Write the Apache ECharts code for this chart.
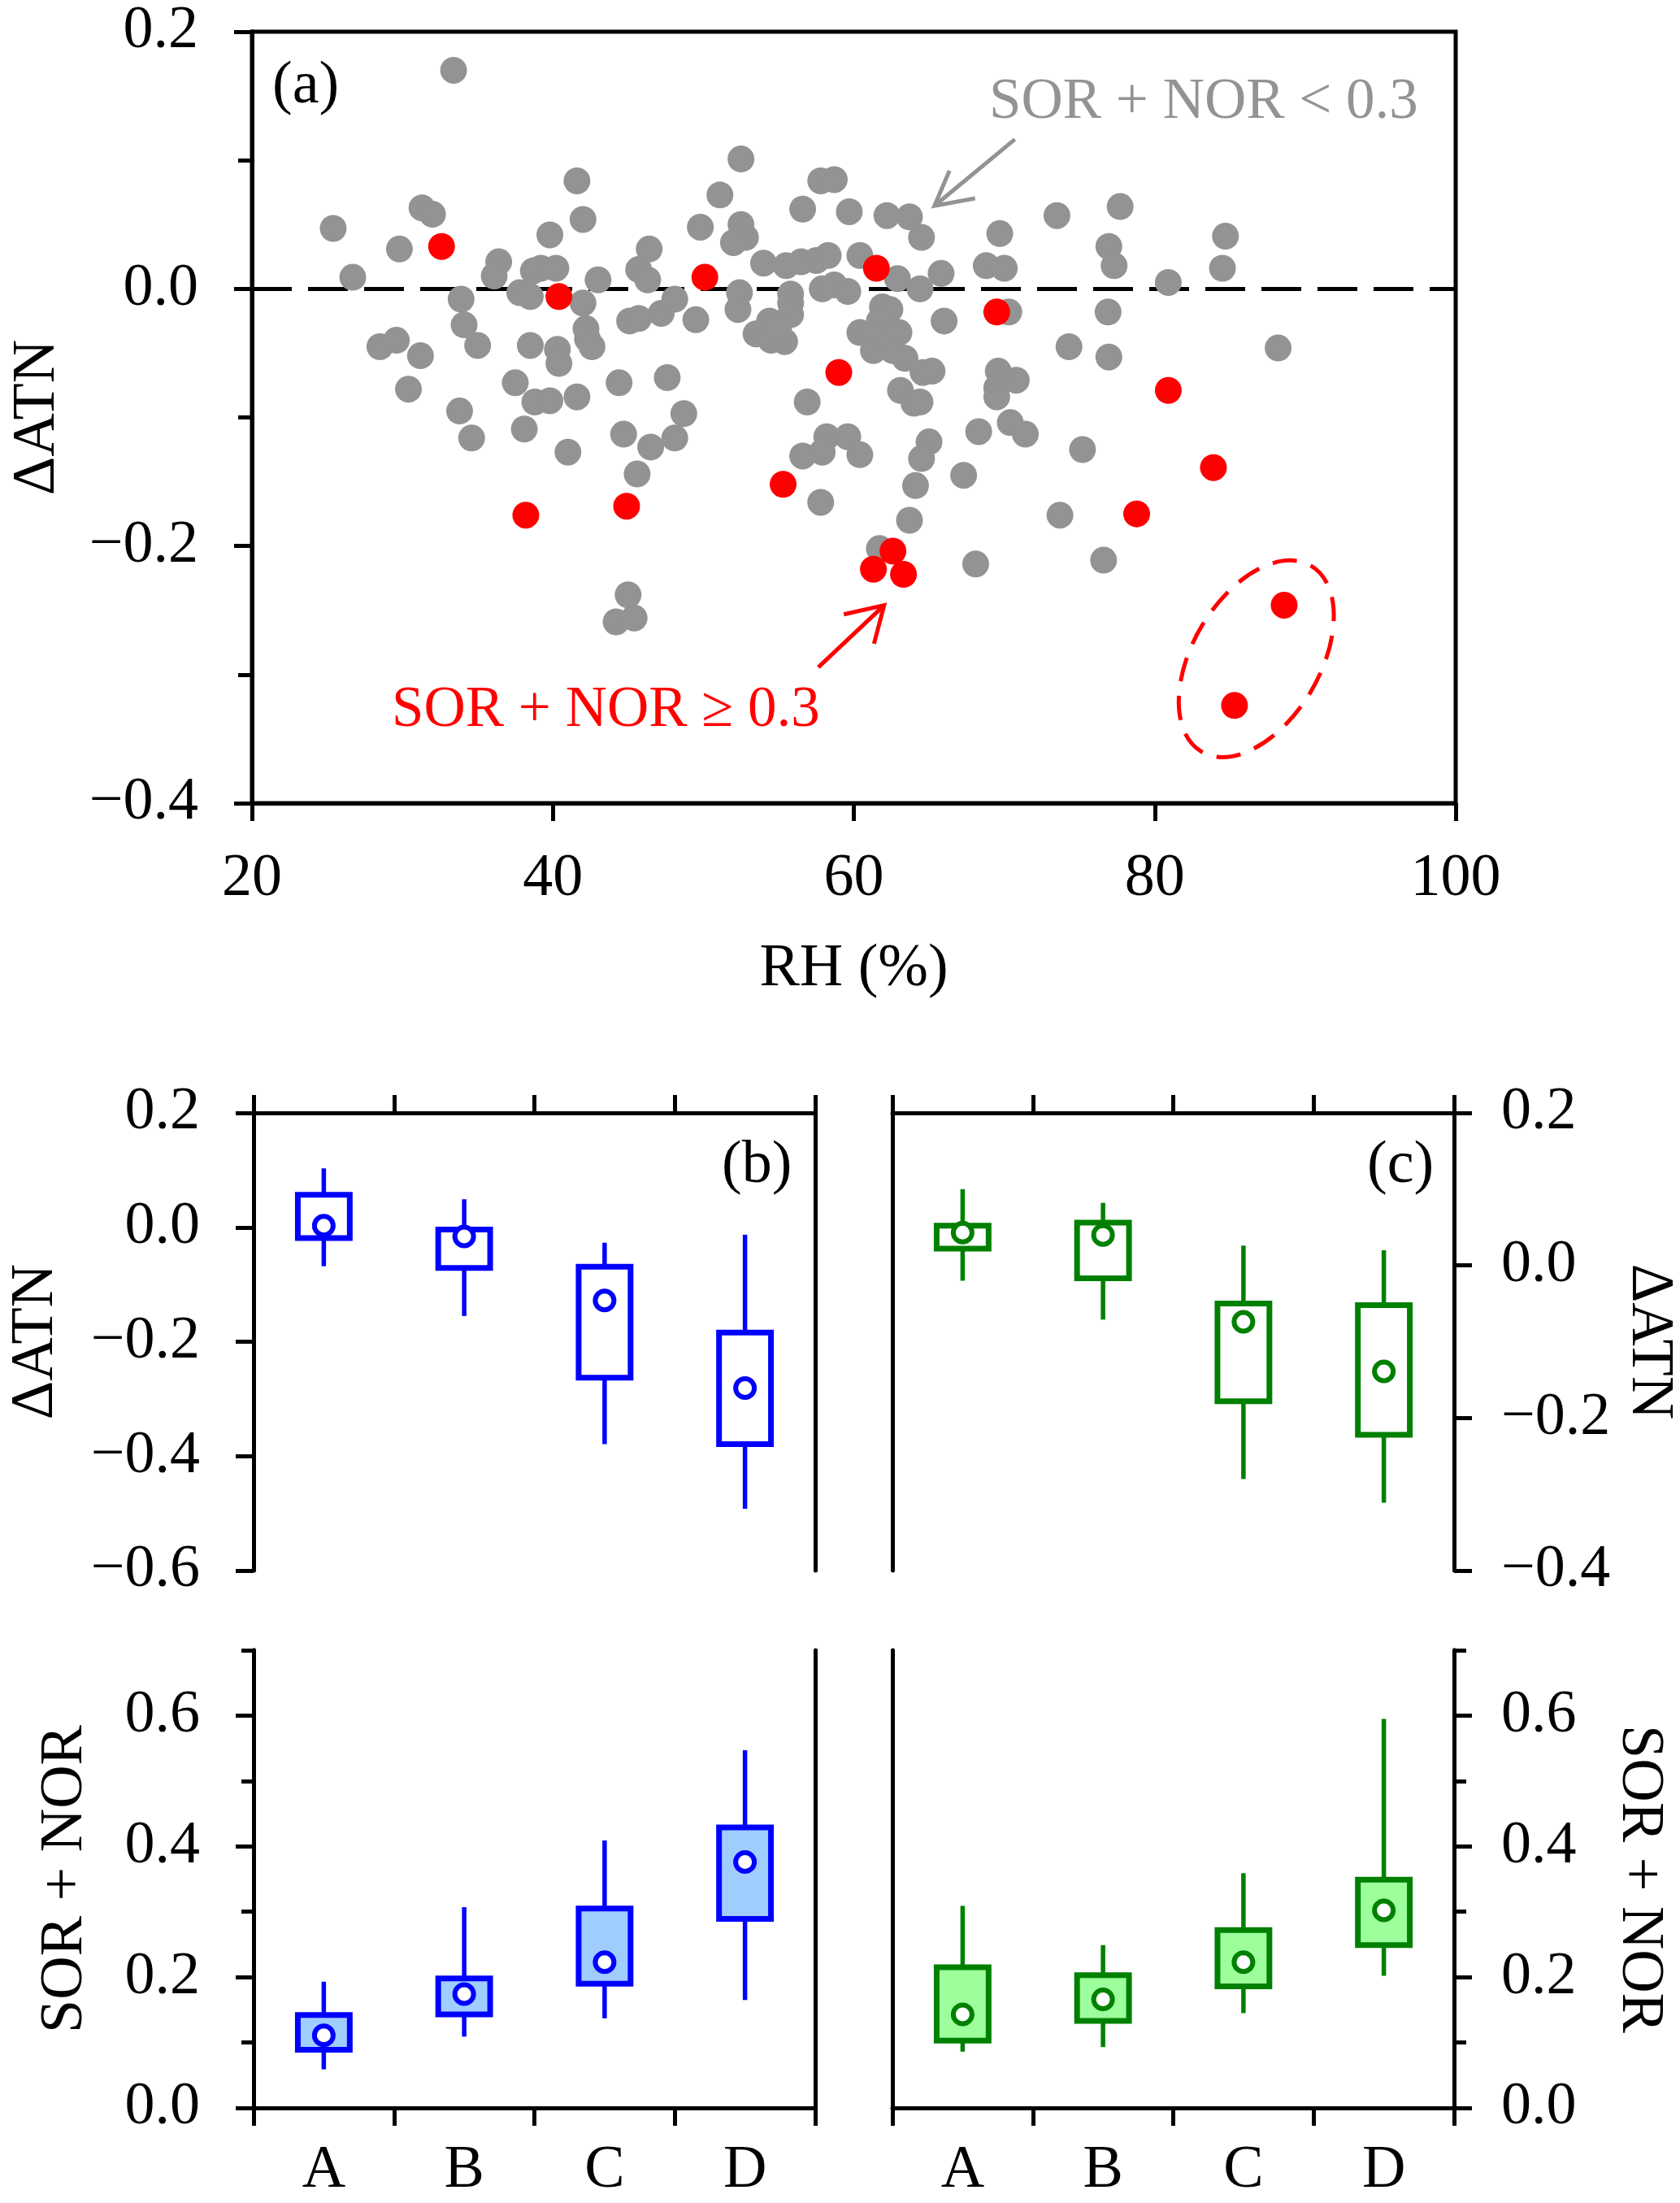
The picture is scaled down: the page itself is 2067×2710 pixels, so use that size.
<!DOCTYPE html>
<html><head><meta charset="utf-8">
<script src="https://cdn.jsdelivr.net/npm/echarts@6/dist/echarts.min.js"></script>
<style>html,body{margin:0;padding:0;background:#fff}#c{width:2067px;height:2710px}</style>
</head><body><div id="c"></div>
<script>
// ---------- DATA ----------
// Panel (a): RH (%) vs ΔATN
const grayPoints = [
  [33.4,0.170],[25.4,0.047],[26.7,0.009],[29.8,0.031],[31.3,0.063],[32.0,0.058],
  [28.5,-0.045],[29.6,-0.040],[31.2,-0.052],[30.4,-0.078],
  [33.9,-0.008],[34.1,-0.028],[35.0,-0.044],[33.8,-0.095],[34.6,-0.116],
  [36.4,0.021],[36.1,0.010],[37.8,-0.003],[38.5,-0.006],[38.7,0.014],[39.2,0.016],[40.2,0.016],[39.8,0.042],
  [41.6,0.084],[42.0,0.054],[42.0,-0.011],[43.0,0.007],
  [38.5,-0.044],[40.3,-0.047],[40.4,-0.058],[37.5,-0.073],[38.8,-0.088],[39.8,-0.087],[41.6,-0.084],[38.1,-0.109],[41.0,-0.127],
  [42.2,-0.031],[42.3,-0.039],[42.6,-0.045],
  [46.4,0.031],[45.7,0.015],[46.3,0.007],[45.1,-0.025],[45.7,-0.023],[47.2,-0.019],
  [44.4,-0.073],[44.7,-0.113],[46.5,-0.123],[45.6,-0.144],
  [45.0,-0.238],[44.2,-0.259],[45.4,-0.256],
  [48.1,-0.008],[47.6,-0.069],[48.1,-0.116],[48.7,-0.097],[49.5,-0.024],[49.8,0.048],[51.1,0.073],[52.5,0.101],[52.5,0.050],[52.8,0.040],[52.0,0.036],[52.4,-0.003],[52.3,-0.016],
  [54.0,0.020],[55.5,0.018],[56.5,0.021],[57.5,0.022],[58.3,0.026],[56.6,0.062],[57.8,0.084],[58.7,0.085],[59.7,0.060],[60.4,0.026],
  [57.9,0.000],[58.7,0.003],[59.6,-0.002],[55.8,-0.004],[55.8,-0.011],[55.8,-0.020],[54.4,-0.025],[53.5,-0.035],[54.5,-0.040],[55.4,-0.041],[55.0,-0.031],
  [56.9,-0.088],[58.2,-0.115],[59.6,-0.115],[56.6,-0.130],[57.9,-0.127],[60.4,-0.129],[57.8,-0.166],
  [62.2,0.057],[63.7,0.056],[64.5,0.040],[62.9,0.008],[64.4,0.000],[65.8,0.012],
  [61.9,-0.014],[62.4,-0.016],[61.7,-0.025],[60.4,-0.034],[61.3,-0.037],[63.0,-0.034],[61.3,-0.048],[62.6,-0.048],[63.4,-0.054],
  [66.0,-0.025],[64.6,-0.065],[65.2,-0.064],[63.1,-0.079],[64.0,-0.089],[64.4,-0.088],
  [65.0,-0.119],[64.5,-0.132],[64.1,-0.153],[63.7,-0.180],[61.7,-0.202],
  [67.3,-0.145],[68.1,-0.214],[68.3,-0.111],
  [69.7,0.043],[68.8,0.018],[70.0,0.016],[70.3,-0.018],[69.6,-0.064],[70.8,-0.071],[69.5,-0.077],[69.5,-0.084],[70.4,-0.104],[71.4,-0.113],
  [73.5,0.057],[74.3,-0.045],[73.7,-0.176],[75.2,-0.125],
  [77.7,0.064],[76.95,0.033],[77.3,0.018],[76.9,-0.018],[76.95,-0.053],[76.6,-0.211],
  [80.9,0.005],[84.7,0.041],[84.5,0.016],[88.2,-0.046]
];
const redPoints = [
  [32.6,0.033],[40.4,-0.006],[38.2,-0.176],[44.9,-0.169],
  [50.1,0.009],[59.0,-0.065],[55.3,-0.152],[61.5,0.016],[62.6,-0.204],[61.3,-0.218],[63.3,-0.222],[69.5,-0.018],
  [80.9,-0.079],[78.8,-0.175],[83.9,-0.139],[88.6,-0.246],[85.3,-0.324]
];
const rhTicks = [20, 40, 60, 80, 100];

// Panels (b),(c): categories and box statistics [low, q1, q3, high, mean]
const categories = ['A','B','C','D'];
const bAtnStats = [
  [-0.068,-0.019,0.057,0.103,0.003],
  [-0.155,-0.071,-0.004,0.049,-0.016],
  [-0.379,-0.263,-0.069,-0.027,-0.128],
  [-0.492,-0.379,-0.184,-0.013,-0.281]
];
const cAtnStats = [
  [-0.020,0.022,0.052,0.100,0.043],
  [-0.071,-0.017,0.056,0.082,0.040],
  [-0.280,-0.178,-0.050,0.026,-0.074],
  [-0.311,-0.222,-0.052,0.020,-0.139]
];
const bSnStats = [
  [0.059,0.089,0.142,0.193,0.111],
  [0.109,0.143,0.198,0.307,0.174],
  [0.137,0.190,0.305,0.409,0.223],
  [0.165,0.289,0.429,0.547,0.376]
];
const cSnStats = [
  [0.086,0.103,0.215,0.309,0.143],
  [0.093,0.133,0.203,0.249,0.166],
  [0.145,0.186,0.272,0.359,0.223],
  [0.202,0.249,0.349,0.595,0.302]
];

// ---------- STYLE / HELPERS ----------
const FONT = 'Liberation Serif';
const LW = 5;
const BLUE = '#0000FF', GREEN = '#008000';
const BLUE_FILL = '#A0CDFF', GREEN_FILL = '#9CFF9C';

function fmt(v) {
  const s = Math.abs(v).toFixed(1);
  return v < -1e-9 ? '\u2212' + s : s;
}
function axisBase(extra) {
  return Object.assign({
    axisLine: { show: true, onZero: false, lineStyle: { color: '#000', width: LW } },
    axisTick: { show: true, inside: false, length: 22, lineStyle: { color: '#000', width: LW } },
    axisLabel: { show: false },
    splitLine: { show: false }
  }, extra);
}
function labelStyle(margin, extra) {
  return Object.assign({ show: true, margin: margin, fontSize: 74, fontFamily: FONT, color: '#000', formatter: fmt }, extra || {});
}
const nameStyle = { fontSize: 74, fontFamily: FONT, color: '#000' };

function boxRender(color, fill) {
  return function (params, api) {
    const i = api.value(0);
    const low = api.coord([i, api.value(1)]);
    const q1 = api.coord([i, api.value(2)]);
    const q3 = api.coord([i, api.value(3)]);
    const high = api.coord([i, api.value(4)]);
    const mean = api.coord([i, api.value(5)]);
    const w = api.size([1, 0])[0] * 0.37;
    const x = q1[0];
    return {
      type: 'group',
      children: [
        { type: 'line', shape: { x1: x, y1: low[1], x2: x, y2: q1[1] }, style: { stroke: color, lineWidth: 5.5 } },
        { type: 'line', shape: { x1: x, y1: q3[1], x2: x, y2: high[1] }, style: { stroke: color, lineWidth: 5.5 } },
        { type: 'rect', shape: { x: x - w / 2, y: q3[1], width: w, height: q1[1] - q3[1] }, style: { fill: fill, stroke: color, lineWidth: 7 } },
        { type: 'circle', shape: { cx: mean[0], cy: mean[1], r: 11.5 }, style: { fill: '#fff', stroke: color, lineWidth: 6 } }
      ]
    };
  };
}
function boxSeries(stats, xi, yi, color, fill) {
  return {
    type: 'custom', xAxisIndex: xi, yAxisIndex: yi,
    renderItem: boxRender(color, fill),
    encode: { x: 0, y: [1, 2, 3, 4, 5] },
    data: stats.map((s, i) => [i].concat(s)),
    z: 5
  };
}

const chart = echarts.init(document.getElementById('c'), null, { renderer: 'canvas' });

const option = {
  animation: false,
  backgroundColor: '#fff',
  grid: [
    { left: 310, top: 39, width: 1481, height: 949, show: true, borderColor: '#000', borderWidth: LW, backgroundColor: 'transparent' },
    { left: 312, top: 1369, width: 691, height: 563 },
    { left: 1098, top: 1369, width: 691, height: 563 },
    { left: 312, top: 2030, width: 691, height: 563 },
    { left: 1098, top: 2030, width: 691, height: 563 }
  ],
  xAxis: [
    axisBase({ gridIndex: 0, type: 'value', min: rhTicks[0], max: rhTicks[rhTicks.length - 1], interval: 20, position: 'bottom',
      axisLabel: labelStyle(57, { formatter: v => String(v) }),
      name: 'RH (%)', nameLocation: 'middle', nameGap: 168, nameTextStyle: nameStyle }),
    axisBase({ gridIndex: 1, type: 'category', data: categories, position: 'top' }),
    axisBase({ gridIndex: 2, type: 'category', data: categories, position: 'top' }),
    axisBase({ gridIndex: 3, type: 'category', data: categories, position: 'bottom', axisLabel: labelStyle(41, { formatter: v => v }) }),
    axisBase({ gridIndex: 4, type: 'category', data: categories, position: 'bottom', axisLabel: labelStyle(41, { formatter: v => v }) })
  ],
  yAxis: [
    // (a) major
    axisBase({ gridIndex: 0, type: 'value', min: -0.4, max: 0.2, interval: 0.2, position: 'left',
      axisLabel: labelStyle(66), name: '\u0394ATN', nameLocation: 'middle', nameGap: 226, nameRotate: 90, nameTextStyle: nameStyle }),
    // (a) minor
    axisBase({ gridIndex: 0, type: 'value', min: -0.4, max: 0.2, interval: 0.1, position: 'left', axisTick: { show: true, length: 17, lineStyle: { color: '#000', width: LW } } }),
    // (b) top left
    axisBase({ gridIndex: 1, type: 'value', min: -0.6, max: 0.2, interval: 0.2, position: 'left',
      axisLabel: labelStyle(66), name: '\u0394ATN', nameLocation: 'middle', nameGap: 230, nameRotate: 90, nameTextStyle: nameStyle }),
    // (b) top right line
    axisBase({ gridIndex: 1, type: 'value', min: -0.6, max: 0.2, interval: 0.2, position: 'right', axisTick: { show: false } }),
    // (c) top left line
    axisBase({ gridIndex: 2, type: 'value', min: -0.4, max: 0.2, interval: 0.2, position: 'left', axisTick: { show: false } }),
    // (c) top right
    axisBase({ gridIndex: 2, type: 'value', min: -0.4, max: 0.2, interval: 0.2, position: 'right',
      axisLabel: labelStyle(58), name: '\u0394ATN', nameLocation: 'middle', nameGap: 202, nameRotate: -90, nameTextStyle: nameStyle }),
    // (b) bottom left major
    axisBase({ gridIndex: 3, type: 'value', min: 0, max: 0.7, interval: 0.2, position: 'left',
      axisTick: { show: true, length: 22, customValues: [0, 0.2, 0.4, 0.6], lineStyle: { color: '#000', width: LW } },
      axisLabel: labelStyle(66, { customValues: [0, 0.2, 0.4, 0.6] }),
      name: 'SOR + NOR', nameLocation: 'middle', nameGap: 194, nameRotate: 90, nameTextStyle: nameStyle }),
    // (b) bottom left minor
    axisBase({ gridIndex: 3, type: 'value', min: 0, max: 0.7, interval: 0.1, position: 'left', axisTick: { show: true, length: 15, lineStyle: { color: '#000', width: LW } } }),
    // (b) bottom right line
    axisBase({ gridIndex: 3, type: 'value', min: 0, max: 0.7, interval: 0.1, position: 'right', axisTick: { show: false } }),
    // (c) bottom left line
    axisBase({ gridIndex: 4, type: 'value', min: 0, max: 0.7, interval: 0.1, position: 'left', axisTick: { show: false } }),
    // (c) bottom right major
    axisBase({ gridIndex: 4, type: 'value', min: 0, max: 0.7, interval: 0.2, position: 'right',
      axisTick: { show: true, length: 22, customValues: [0, 0.2, 0.4, 0.6], lineStyle: { color: '#000', width: LW } },
      axisLabel: labelStyle(58, { customValues: [0, 0.2, 0.4, 0.6] }),
      name: 'SOR + NOR', nameLocation: 'middle', nameGap: 190, nameRotate: -90, nameTextStyle: nameStyle }),
    // (c) bottom right minor
    axisBase({ gridIndex: 4, type: 'value', min: 0, max: 0.7, interval: 0.1, position: 'right', axisTick: { show: true, length: 15, lineStyle: { color: '#000', width: LW } } })
  ],
  series: [
    {
      type: 'scatter', xAxisIndex: 0, yAxisIndex: 0, data: grayPoints, symbolSize: 33,
      itemStyle: { color: '#939393', opacity: 1 }, z: 3,
      markLine: {
        silent: true, symbol: ['none', 'none'], label: { show: false }, z: 1,
        lineStyle: { color: '#000', width: 5, type: [49, 20] },
        data: [{ yAxis: 0 }]
      }
    },
    { type: 'scatter', xAxisIndex: 0, yAxisIndex: 0, data: redPoints, symbolSize: 33, itemStyle: { color: '#FF0000', opacity: 1 }, z: 4 },
    boxSeries(bAtnStats, 1, 2, BLUE, 'none'),
    boxSeries(cAtnStats, 2, 4, GREEN, 'none'),
    boxSeries(bSnStats, 3, 6, BLUE, BLUE_FILL),
    boxSeries(cSnStats, 4, 9, GREEN, GREEN_FILL)
  ],
  graphic: [
    { type: 'text', x: 335, y: 70, z: 100, style: { text: '(a)', fontSize: 74, fontFamily: FONT, fill: '#000', align: 'left', verticalAlign: 'top' } },
    { type: 'text', x: 888, y: 1398, z: 100, style: { text: '(b)', fontSize: 74, fontFamily: FONT, fill: '#000', align: 'left', verticalAlign: 'top' } },
    { type: 'text', x: 1682, y: 1398, z: 100, style: { text: '(c)', fontSize: 74, fontFamily: FONT, fill: '#000', align: 'left', verticalAlign: 'top' } },
    { type: 'text', x: 1217, y: 126, z: 100, style: { text: 'SOR + NOR < 0.3', fontSize: 71, fontFamily: FONT, fill: '#939393', align: 'left', verticalAlign: 'middle' } },
    { type: 'text', x: 482, y: 874, z: 100, style: { text: 'SOR + NOR \u2265 0.3', fontSize: 71, fontFamily: FONT, fill: '#FF0000', align: 'left', verticalAlign: 'middle' } },
    { type: 'polyline', z: 100, shape: { points: [[1248.6, 171.4], [1149.7, 253.3]] }, style: { stroke: '#939393', lineWidth: 5, fill: null } },
    { type: 'polyline', z: 100, shape: { points: [[1168.2, 209.9], [1149.7, 253.3], [1199.7, 244]] }, style: { stroke: '#939393', lineWidth: 5, fill: null } },
    { type: 'polyline', z: 100, shape: { points: [[1006.8, 820.9], [1087.8, 744.6]] }, style: { stroke: '#FF0000', lineWidth: 5, fill: null } },
    { type: 'polyline', z: 100, shape: { points: [[1038.2, 755.8], [1087.8, 744.6], [1075.3, 791.8]] }, style: { stroke: '#FF0000', lineWidth: 5, fill: null } },
    { type: 'ellipse', z: 100, x: 1545.7, y: 810.4, rotation: 1.037, shape: { cx: 0, cy: 0, rx: 132.7, ry: 78.3 }, style: { fill: null, stroke: '#FF0000', lineWidth: 5, lineDash: [30, 18] } }
  ]
};
chart.setOption(option);
</script>
</body></html>
